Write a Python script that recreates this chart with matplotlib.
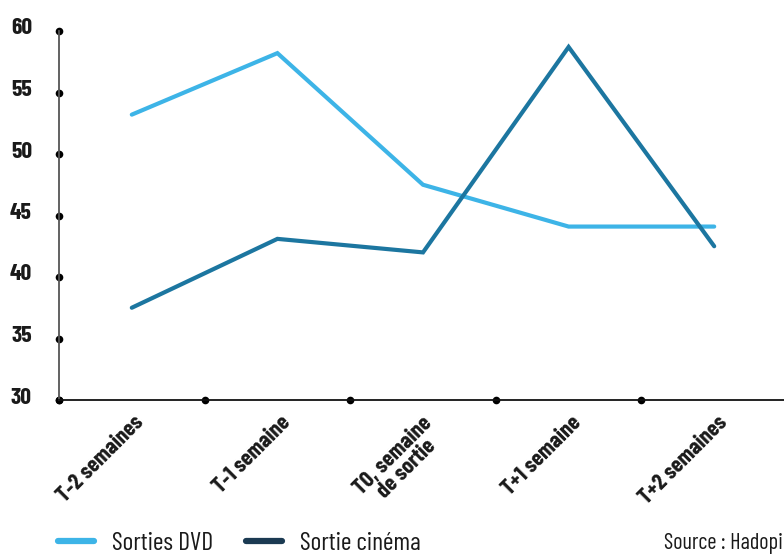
import matplotlib
matplotlib.use("Agg")
import matplotlib.pyplot as plt
import matplotlib.transforms as mtransforms
from matplotlib.lines import Line2D

# --- data -------------------------------------------------------------
categories = ["T-2 semaines", "T-1 semaine", "T0, semaine\nde sortie",
              "T+1 semaine", "T+2 semaines"]
dvd_values = [53.2, 58.2, 47.5, 44.1, 44.1]
cinema_values = [37.5, 43.1, 42.0, 58.7, 42.5]
y_ticks = [30, 35, 40, 45, 50, 55, 60]
series_labels = ["Sorties DVD", "Sortie cinéma"]
source_text = "Source : Hadopi"

# --- style ------------------------------------------------------------
plt.rcParams["font.family"] = ["Barlow Condensed", "DejaVu Sans"]

DVD_BLUE = "#3db4e7"
CINEMA_BLUE = "#1c76a0"
CINEMA_KEY = "#1b3a52"
TEXT = "#1a1a1a"

fig = plt.figure(figsize=(7.84, 5.54), dpi=100)
W, H = 784, 554
ax = fig.add_axes([59 / W, (H - 400) / H, 728 / W, 369 / H])

x = list(range(len(categories)))
line_kw = dict(lw=3.0, solid_capstyle="round", solid_joinstyle="miter", clip_on=False)
ax.plot(x, dvd_values, color=DVD_BLUE, zorder=3, **line_kw)
ax.plot(x, cinema_values, color=CINEMA_BLUE, zorder=4, **line_kw)

ax.set_xlim(-0.5, len(categories) - 0.5)
ax.set_ylim(30, 60)

for side in ("top", "right"):
    ax.spines[side].set_visible(False)
ax.spines["left"].set_color("#555555")
ax.spines["left"].set_linewidth(1.3)
ax.spines["bottom"].set_color("#111111")
ax.spines["bottom"].set_linewidth(1.3)

# y axis: round dots as tick marks
ax.set_yticks(y_ticks)
ax.set_yticklabels([str(v) for v in y_ticks])
ax.tick_params(axis="y", direction="in", length=5.5, width=0, pad=19.5,
               labelsize=17, labelcolor=TEXT)
for t in ax.yaxis.get_major_ticks():
    t.tick1line.set_marker("o")
    t.tick1line.set_markersize(5.5)
    t.tick1line.set_markerfacecolor("black")
    t.tick1line.set_markeredgewidth(0)
    t.label1.set_fontweight("bold")
    t.label1.set_horizontalalignment("right")

# x axis: dots between categories, labels under each category
ax.set_xticks(x)
ax.set_xticklabels(categories)
ax.set_xticks([i - 0.5 for i in x], minor=True)
ax.tick_params(axis="x", which="major", direction="in", length=0, pad=9,
               labelsize=16.5, labelcolor=TEXT)
ax.tick_params(axis="x", which="minor", direction="in", length=5.5, width=0)
for t in ax.xaxis.get_minor_ticks():
    t.tick1line.set_marker("o")
    t.tick1line.set_markersize(5.5)
    t.tick1line.set_markerfacecolor("black")
    t.tick1line.set_markeredgewidth(0)
    t.tick1line.set_clip_on(False)

dy_up = mtransforms.ScaledTranslation(0, 4.5 / 100, fig.dpi_scale_trans)
for lab in ax.get_yticklabels():
    lab.set_transform(lab.get_transform() + dy_up)

shifts = [16, 17, 26, 16, 17]
for lab, s in zip(ax.get_xticklabels(), shifts):
    lab.set_rotation(45)
    lab.set_horizontalalignment("right")
    lab.set_verticalalignment("top")
    lab.set_multialignment("center")
    lab.set_linespacing(0.95)
    lab.set_fontweight("bold")
    lab.set_transform(lab.get_transform()
                      + mtransforms.ScaledTranslation(s / 100, 0, fig.dpi_scale_trans))

# legend at the bottom
handles = [
    Line2D([], [], color=DVD_BLUE, lw=4.5, solid_capstyle="round"),
    Line2D([], [], color=CINEMA_KEY, lw=4.5, solid_capstyle="round"),
]
fig.legend(handles, series_labels, loc="center left",
           bbox_to_anchor=(58 / W, 1 - 543 / H), ncol=2, frameon=False,
           fontsize=18.5, labelcolor=TEXT, handlelength=1.4, handletextpad=0.7,
           columnspacing=1.3, borderpad=0, borderaxespad=0)

fig.text(664 / W, 1 - 544 / H, source_text, ha="left", va="center",
         fontsize=16, color=TEXT)

fig.savefig("out.png", dpi=100)
